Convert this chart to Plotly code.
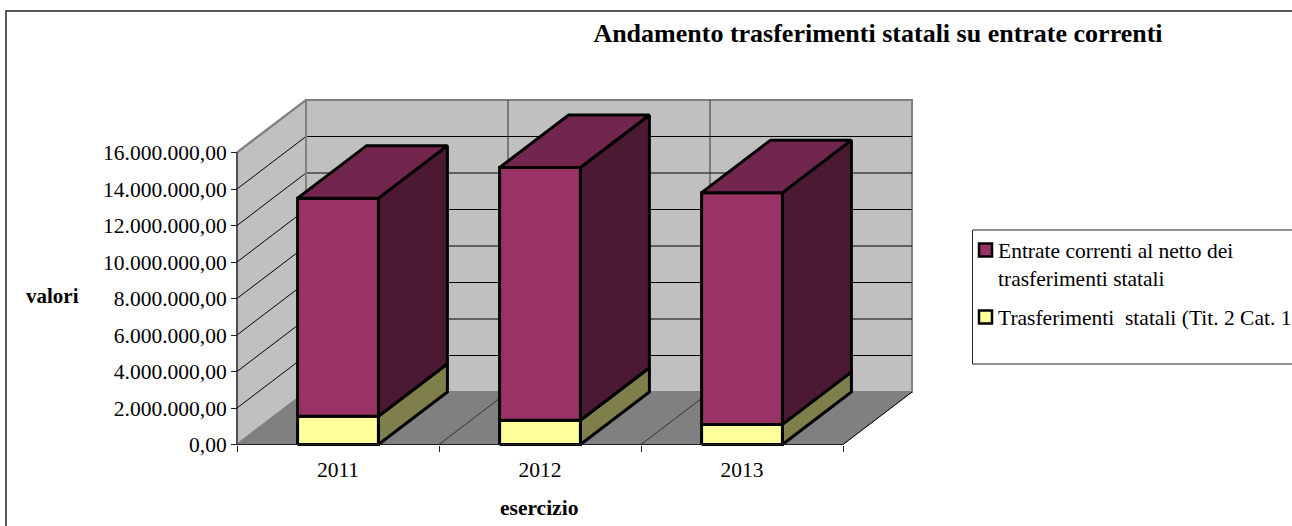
import plotly.graph_objects as go

# ---- data ----
years = ["2011", "2012", "2013"]
trasferimenti = [1550000, 1330000, 1100000]
entrate_nette = [11950000, 13850000, 12700000]
y_ticks = [0, 2000000, 4000000, 6000000, 8000000, 10000000, 12000000, 14000000, 16000000]
y_labels = ["0,00", "2.000.000,00", "4.000.000,00", "6.000.000,00", "8.000.000,00",
            "10.000.000,00", "12.000.000,00", "14.000.000,00", "16.000.000,00"]
name_entrate = "Entrate correnti al netto dei<br>trasferimenti statali"
name_trasf = "Trasferimenti  statali (Tit. 2 Cat. 1"

# ---- page / projection ----
W, H = 1292, 526
PX0, PY0 = 237.0, 444.5      # pixel of axis origin
PX_CAT = 202.0               # pixels per category
PX_VAL = 36.5 / 2000000      # pixels per unit
DX = 69 / PX_CAT             # oblique depth, category units
DY = 52.5 / PX_VAL           # oblique depth, value units
BAR_L, BAR_R = 0.3, 0.7
YMAX = y_ticks[-1]
N = len(years)

WALL, FLOOR, EDGE = "#C0C0C0", "#808080", "#808080"
PURPLE, YELLOW = "#993366", "#FFFF99"
BAR_LINE = 3

fig = go.Figure()


def poly(xs, ys, fill, line="black", width=1.0, name=None):
    fig.add_trace(go.Scatter(x=xs + xs[:1], y=ys + ys[:1], mode="lines", fill="toself",
                             fillcolor=fill, line=dict(color=line, width=width),
                             showlegend=False, hoverinfo="skip", name=name))


def seg(xs, ys, color="black", width=1.0):
    fig.add_trace(go.Scatter(x=xs, y=ys, mode="lines", line=dict(color=color, width=width),
                             showlegend=False, hoverinfo="skip"))


# walls and floor
poly([0, DX, DX, 0], [0, DY, YMAX + DY, YMAX], WALL, EDGE, 2)
poly([DX, N + DX, N + DX, DX], [DY, DY, YMAX + DY, YMAX + DY], WALL, EDGE, 2)
poly([0, N, N + DX, DX], [0, 0, DY, DY], FLOOR, FLOOR, 1)

# gridlines
for v in y_ticks[1:-1]:
    seg([0, DX, N + DX], [v, v + DY, v + DY])
seg([0, DX], [YMAX, YMAX + DY], EDGE, 2)
for i in range(1, N):
    seg([i, i + DX, i + DX], [0, DY, YMAX + DY], "#333333", 1)
seg([N, N + DX], [0, DY])
seg([DX, DX], [DY, YMAX + DY], EDGE, 2)

# bars
for i in range(N):
    l, r = i + BAR_L, i + BAR_R
    a = trasferimenti[i]
    b = a + entrate_nette[i]
    poly([r, r + DX, r + DX, r], [0, DY, a + DY, a], "#7F7F4C", "black", BAR_LINE)
    poly([l, r, r, l], [0, 0, a, a], YELLOW, "black", BAR_LINE, name_trasf)
    poly([r, r + DX, r + DX, r], [a, a + DY, b + DY, b], "#4C1933", "black", BAR_LINE)
    poly([l, r, r, l], [a, a, b, b], PURPLE, "black", BAR_LINE, name_entrate)
    poly([l, r, r + DX, l + DX], [b, b, b + DY, b + DY], "#73264D", "black", BAR_LINE)

# axis lines
seg([0, 0], [0, YMAX], "#222222", 1)
seg([0, N], [0, 0], "#222222", 1)


def px(x):
    return x / W


def py(y):
    return 1 - y / H


def swatch(cy, col):
    return dict(type="rect", xref="paper", yref="paper", x0=px(979), x1=px(992),
                y0=py(cy + 6.5), y1=py(cy - 6.5), line=dict(color="black", width=2.5),
                fillcolor=col, layer="above")


fig.update_layout(
    width=W, height=H, margin=dict(l=0, r=0, t=0, b=0, autoexpand=False),
    paper_bgcolor="white", plot_bgcolor="white", showlegend=False,
    font=dict(family="Liberation Serif", size=21, color="black"),
    title=dict(text="<b>Andamento trasferimenti statali su entrate correnti</b>",
               x=px(878), y=py(33), xanchor="center", yanchor="middle",
               font=dict(size=26, family="Liberation Serif", color="black")),
    xaxis=dict(range=[-PX0 / PX_CAT, (W - PX0) / PX_CAT], domain=[0, 1], anchor="free",
               position=(H - PY0) / H, showgrid=False, zeroline=False, showline=False,
               tickmode="array", tickvals=[i + 0.5 for i in range(N)], ticktext=years,
               ticks="outside", ticklen=6, tickcolor="rgba(0,0,0,0)",
               tickfont=dict(size=21.5),
               minor=dict(tickmode="array", tickvals=list(range(N + 1)), ticks="outside",
                          ticklen=6, tickcolor="#222222", showgrid=False),
               automargin=False),
    yaxis=dict(range=[-(H - PY0) / PX_VAL, PY0 / PX_VAL], domain=[0, 1], anchor="free",
               position=PX0 / W, showgrid=False, zeroline=False, showline=False,
               tickmode="array", tickvals=y_ticks, ticktext=y_labels,
               tickfont=dict(size=21.5),
               ticks="outside", ticklen=6, tickcolor="#222222", automargin=False),
    annotations=[
        dict(text="<b>valori</b>", xref="paper", yref="paper", x=px(52), y=py(296),
             xanchor="center", yanchor="middle", showarrow=False, font=dict(size=21)),
        dict(text="<b>esercizio</b>", xref="paper", yref="paper", x=px(539), y=py(508),
             xanchor="center", yanchor="middle", showarrow=False, font=dict(size=21.5)),
        dict(text=name_entrate, xref="paper", yref="paper", x=px(996), y=py(264.5),
             xanchor="left", yanchor="middle", align="left", showarrow=False,
             font=dict(size=21.5)),
        dict(text=name_trasf, xref="paper", yref="paper", x=px(996), y=py(318),
             xanchor="left", yanchor="middle", align="left", showarrow=False,
             font=dict(size=21.5)),
    ],
    shapes=[
        dict(type="rect", xref="paper", yref="paper", x0=px(6), x1=1.02, y0=-0.05, y1=py(11),
             line=dict(color="#222222", width=1.5), fillcolor="rgba(0,0,0,0)", layer="above"),
        dict(type="rect", xref="paper", yref="paper", x0=px(972.5), x1=1.02,
             y0=py(364), y1=py(230),
             line=dict(color="#222222", width=1), fillcolor="white", layer="below"),
        swatch(250, PURPLE),
        swatch(317, YELLOW),
    ],
)

fig.write_html("out.html", config={"displayModeBar": False},
               post_script="document.body.style.margin='0';document.body.style.overflow='hidden';")
